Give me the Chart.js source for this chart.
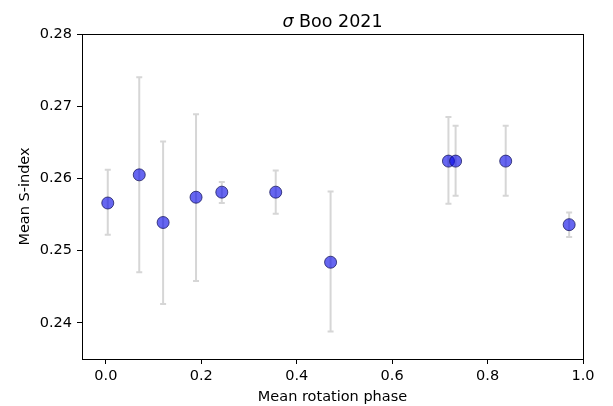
<!DOCTYPE html>
<html lang="en">
<head>
    <meta charset="UTF-8">
    <title>sigma Boo 2021</title>
    <script src="https://cdn.jsdelivr.net/npm/chart.js"></script>
    <style>
        html, body { margin: 0; padding: 0; background: #fff; }
        #wrap { width: 613px; height: 406px; }
    </style>
</head>
<body>
    <div id="wrap"><canvas id="chart" width="613" height="406"></canvas></div>

    <script>
        // Data
        const phase   = [0.004, 0.070, 0.120, 0.189, 0.243, 0.356, 0.471, 0.718, 0.733, 0.838, 0.971];
        const sIndex  = [0.2566, 0.2605, 0.2539, 0.2574, 0.2581, 0.2581, 0.2484, 0.2624, 0.2624, 0.2624, 0.2536];
        const errHigh = [0.2612, 0.2740, 0.2651, 0.2689, 0.2595, 0.2611, 0.2582, 0.2685, 0.2673, 0.2673, 0.2553];
        const errLow  = [0.2522, 0.2470, 0.2426, 0.2458, 0.2566, 0.2551, 0.2388, 0.2565, 0.2576, 0.2576, 0.2519];
        const xTicks  = [0.0, 0.2, 0.4, 0.6, 0.8, 1.0];
        const yTicks  = [0.24, 0.25, 0.26, 0.27, 0.28];

        const FONT = "'DejaVu Sans', sans-serif";

        // error bars drawn under the points
        const errorBars = {
            id: 'errorBars',
            beforeDatasetsDraw(chart) {
                const { ctx, scales: { x, y } } = chart;
                ctx.save();
                ctx.strokeStyle = '#d6d6d6';
                ctx.lineWidth = 2;
                phase.forEach((p, i) => {
                    const px = x.getPixelForValue(p);
                    const top = y.getPixelForValue(errHigh[i]);
                    const bot = y.getPixelForValue(errLow[i]);
                    ctx.beginPath();
                    ctx.moveTo(px, top); ctx.lineTo(px, bot);
                    ctx.moveTo(px - 3, top); ctx.lineTo(px + 3, top);
                    ctx.moveTo(px - 3, bot); ctx.lineTo(px + 3, bot);
                    ctx.stroke();
                });
                ctx.restore();
            }
        };

        // axes box and title
        const frame = {
            id: 'frame',
            afterDraw(chart) {
                const { ctx, chartArea: a } = chart;
                ctx.save();
                ctx.strokeStyle = '#000';
                ctx.lineWidth = 1;
                ctx.strokeRect(a.left + 0.5, a.top + 0.5, a.right - a.left, a.bottom - a.top);

                const cx = (a.left + a.right) / 2;
                const base = 26.5;
                const s1 = 'σ';
                const s2 = ' Boo 2021';
                ctx.fillStyle = '#000';
                ctx.textBaseline = 'alphabetic';
                ctx.textAlign = 'left';
                ctx.font = '17.5px ' + FONT;
                const w2 = ctx.measureText(s2).width;
                ctx.font = 'italic 17.5px ' + FONT;
                const w1 = ctx.measureText(s1).width;
                const start = cx - (w1 + w2) / 2;
                ctx.fillText(s1, start, base);
                ctx.font = '17.5px ' + FONT;
                ctx.fillText(s2, start + w1, base);
                ctx.restore();
            }
        };

        const ctx = document.getElementById('chart').getContext('2d');
        new Chart(ctx, {
            type: 'scatter',
            data: {
                datasets: [{
                    data: phase.map((p, i) => ({ x: p, y: sIndex[i] })),
                    backgroundColor: 'rgba(0, 0, 230, 0.6)',
                    borderColor: 'rgba(20, 20, 90, 0.75)',
                    borderWidth: 1,
                    pointRadius: 6,
                    pointHoverRadius: 6
                }]
            },
            options: {
                responsive: false,
                animation: false,
                layout: { padding: { top: 34, right: 30, left: 0, bottom: 0 } },
                plugins: {
                    legend: { display: false },
                    tooltip: { enabled: false }
                },
                scales: {
                    x: {
                        type: 'linear',
                        min: -0.05,
                        max: 1.0,
                        afterBuildTicks: s => { s.ticks = xTicks.map(v => ({ value: v })); },
                        afterFit: s => { s.height = 47; },
                        border: { display: false },
                        grid: { drawOnChartArea: false, drawTicks: true, tickLength: 5, tickColor: '#000' },
                        ticks: {
                            color: '#000', padding: 4,
                            font: { family: FONT, size: 14.5 },
                            maxRotation: 0,
                            callback: v => v.toFixed(1)
                        },
                        title: {
                            display: true, text: 'Mean rotation phase', color: '#000',
                            font: { family: FONT, size: 14.5 },
                            padding: { top: 0, bottom: 0 }
                        }
                    },
                    y: {
                        min: 0.235,
                        max: 0.28,
                        afterBuildTicks: s => { s.ticks = yTicks.map(v => ({ value: v })); },
                        afterFit: s => { s.width = 82; },
                        border: { display: false },
                        grid: { drawOnChartArea: false, drawTicks: true, tickLength: 5, tickColor: '#000' },
                        ticks: {
                            color: '#000', padding: 5,
                            font: { family: FONT, size: 14.5 },
                            callback: v => v.toFixed(2)
                        },
                        title: {
                            display: true, text: 'Mean S-index', color: '#000',
                            font: { family: FONT, size: 14.5 },
                            padding: { top: 17, bottom: 0 }
                        }
                    }
                }
            },
            plugins: [errorBars, frame]
        });
    </script>
</body>
</html>
